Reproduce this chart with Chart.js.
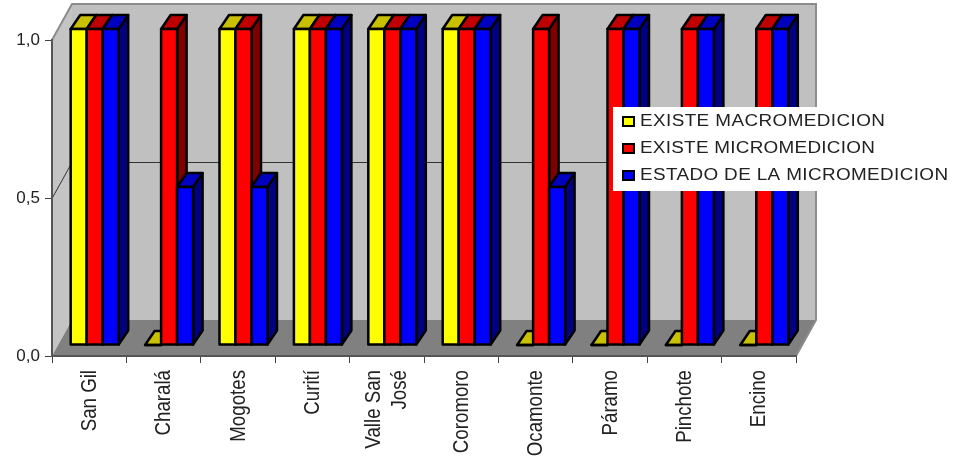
<!DOCTYPE html>
<html>
<head>
<meta charset="utf-8">
<style>
  html, body { margin: 0; padding: 0; background: #fff; }
  canvas { display: block; }
</style>
<script src="https://cdnjs.cloudflare.com/ajax/libs/Chart.js/4.4.1/chart.umd.js"></script>
</head>
<body>
<canvas id="medicion_chart" width="953" height="463"></canvas>
<script>
const municipios = ["San Gil", "Charalá", "Mogotes", "Curití", ["Valle San", "José"], "Coromoro", "Ocamonte", "Páramo", "Pinchote", "Encino"];
const existeMacro = [1, 0, 1, 1, 1, 1, 0, 0, 0, 0];
const existeMicro = [1, 1, 1, 1, 1, 1, 1, 1, 1, 1];
const estadoMicro = [1, 0.5, 0.5, 1, 1, 1, 0.5, 1, 1, 1];
const yTicks = [0, 0.5, 1];

// front / top / side colours of each series
const serieColors = [
    { front: "#ffff00", top: "#c8c000", side: "#808000" },
    { front: "#ff0000", top: "#c00000", side: "#800000" },
    { front: "#0000ff", top: "#0000c0", side: "#000080" }
];

const WALL = { dx: 20, dy: -36 };   // front plane -> back wall
const BAR_POS = { dx: 5.5, dy: -11 }; // front plane -> front face of the bars
const BAR_DEPTH = { dx: 9.5, dy: -14 };
const BAR_LINE = 2.5;

function poly(ctx, points, fill, stroke, lineWidth) {
    ctx.beginPath();
    ctx.moveTo(points[0][0], points[0][1]);
    for (let i = 1; i < points.length; i++) {
        ctx.lineTo(points[i][0], points[i][1]);
    }
    ctx.closePath();
    if (fill) {
        ctx.fillStyle = fill;
        ctx.fill();
    }
    if (stroke) {
        ctx.strokeStyle = stroke;
        ctx.lineWidth = lineWidth;
        ctx.lineJoin = "round";
        ctx.stroke();
    }
}

// category names, vertical and squeezed along the reading direction
function drawCategoryLabels(chart) {
    const ctx = chart.ctx;
    const x = chart.scales.x;

    ctx.save();
    ctx.fillStyle = "#222";
    ctx.font = "22px 'Liberation Sans', Arial, sans-serif";
    ctx.textAlign = "right";
    ctx.textBaseline = "alphabetic";
    municipios.forEach(function(name, i) {
        const lines = Array.isArray(name) ? name : [name];
        lines.forEach(function(line, n) {
            const offset = (n - (lines.length - 1) / 2) * 26;
            ctx.save();
            ctx.translate(x.getPixelForTick(i) + offset + 6.5, 370);
            ctx.rotate(-Math.PI / 2);
            ctx.scale(0.85, 1);
            ctx.fillText(line, 0, 0);
            ctx.restore();
        });
    });
    ctx.restore();
}

// legend box sits over the plot
function drawLegendBox(chart) {
    const ctx = chart.ctx;
    const rows = [126, 153, 180];
    const spacing = ["0.35px", "0.23px", "0.32px"];

    ctx.save();
    ctx.fillStyle = "#fff";
    ctx.fillRect(613, 107, 338, 84);
    ctx.font = "16px 'Liberation Sans', Arial, sans-serif";
    ctx.textBaseline = "alphabetic";
    chart.data.datasets.forEach(function(ds, i) {
        ctx.fillStyle = ds.backgroundColor;
        ctx.strokeStyle = "#000";
        ctx.lineWidth = 2;
        ctx.fillRect(623, rows[i] - 9, 11, 9);
        ctx.strokeRect(623, rows[i] - 9, 11, 9);

        ctx.save();
        ctx.translate(640, rows[i]);
        ctx.scale(1.18, 1);
        ctx.fillStyle = "#222";
        ctx.letterSpacing = spacing[i];
        ctx.fillText(ds.label, 0, 0);
        ctx.restore();
    });
    ctx.restore();
}

// walls and floor of the 3d box
const boxPlugin = {
    id: "box3d",
    beforeDraw(chart) {
        const ctx = chart.ctx;
        const a = chart.chartArea;
        const y = chart.scales.y;
        const d = WALL;

        ctx.save();
        poly(ctx, [[a.left, a.top], [a.left + d.dx, a.top + d.dy], [a.left + d.dx, a.bottom + d.dy], [a.left, a.bottom]], "#c4c4c4");
        poly(ctx, [[a.left + d.dx, a.top + d.dy], [a.right + d.dx, a.top + d.dy], [a.right + d.dx, a.bottom + d.dy], [a.left + d.dx, a.bottom + d.dy]], "#c0c0c0");
        poly(ctx, [[a.left, a.bottom], [a.left + d.dx, a.bottom + d.dy], [a.right + d.dx, a.bottom + d.dy], [a.right, a.bottom]], "#808080");

        // grey rim round the top of the box
        ctx.beginPath();
        ctx.moveTo(a.left, a.top);
        ctx.lineTo(a.left + d.dx, a.top + d.dy);
        ctx.lineTo(a.right + d.dx, a.top + d.dy);
        ctx.lineTo(a.right + d.dx, a.bottom + d.dy);
        ctx.lineTo(a.right, a.bottom);
        ctx.strokeStyle = "#8c8c8c";
        ctx.lineWidth = 2;
        ctx.stroke();

        // gridlines run along the side wall and the back wall
        ctx.strokeStyle = "#333";
        ctx.lineWidth = 1;
        yTicks.forEach(function(v) {
            if (v == 0 || v == 1) return;
            const py = Math.round(y.getPixelForValue(v)) + 0.5;
            ctx.beginPath();
            ctx.moveTo(a.left, py);
            ctx.lineTo(a.left + d.dx, py + d.dy);
            ctx.lineTo(a.right + d.dx, py + d.dy);
            ctx.stroke();
        });
        ctx.restore();
    },
    // bars go left to right so that nearer faces cover the sides behind them
    beforeDatasetsDraw(chart) {
        const ctx = chart.ctx;
        const metas = chart.data.datasets.map(function(ds, i) { return chart.getDatasetMeta(i); });

        ctx.save();
        ctx.translate(BAR_POS.dx, BAR_POS.dy);
        for (let i = 0; i < municipios.length; i++) {
            metas.forEach(function(meta, s) {
                const bar = meta.data[i];
                const c = serieColors[s];
                const left = bar.x - bar.width / 2;
                const right = bar.x + bar.width / 2;
                const top = bar.y;
                const base = bar.base;
                const dx = BAR_DEPTH.dx;
                const dy = BAR_DEPTH.dy;

                if (base > top) {
                    poly(ctx, [[right, top], [right + dx, top + dy], [right + dx, base + dy], [right, base]], c.side, "#000", BAR_LINE);
                }
                poly(ctx, [[left, top], [left + dx, top + dy], [right + dx, top + dy], [right, top]], c.top, "#000", BAR_LINE);
                bar.draw(ctx);
                ctx.strokeStyle = "#000";
                ctx.lineWidth = BAR_LINE;
                ctx.strokeRect(left, top, right - left, base - top);
            });
        }
        ctx.restore();
        return false;
    },
    afterDraw(chart) {
        drawCategoryLabels(chart);
        drawLegendBox(chart);
    }
};

const data = {
    labels: municipios,
    datasets: [
        { label: "EXISTE MACROMEDICION", data: existeMacro, backgroundColor: serieColors[0].front },
        { label: "EXISTE MICROMEDICION", data: existeMicro, backgroundColor: serieColors[1].front },
        { label: "ESTADO DE LA MICROMEDICION", data: estadoMicro, backgroundColor: serieColors[2].front }
    ]
};

const config = {
    type: "bar",
    data: data,
    plugins: [boxPlugin],
    options: {
        responsive: false,
        animation: false,
        layout: { padding: { top: 40, right: 157, left: 0, bottom: 0 } },
        datasets: {
            bar: { categoryPercentage: 0.645, barPercentage: 1, borderWidth: 0 }
        },
        plugins: {
            legend: { display: false },
            tooltip: { enabled: false }
        },
        scales: {
            x: {
                afterFit: function(scale) { scale.height = 107; },
                border: { color: "#555", width: 2 },
                grid: { drawOnChartArea: false, tickColor: "#444", tickLength: 7 },
                ticks: { display: false, autoSkip: false }
            },
            y: {
                min: 0,
                max: 1,
                afterFit: function(scale) { scale.width = 52; },
                afterBuildTicks: function(scale) {
                    scale.ticks = yTicks.map(function(v) { return { value: v }; });
                },
                border: { color: "#555", width: 2 },
                grid: { drawOnChartArea: false, tickColor: "#444", tickLength: 7 },
                ticks: {
                    color: "#222",
                    padding: 5,
                    font: { family: "'Liberation Sans', Arial", size: 17 },
                    callback: function(value) { return value.toFixed(1).replace(".", ","); }
                }
            }
        }
    }
};

new Chart(document.getElementById("medicion_chart"), config);
</script>
</body>
</html>
